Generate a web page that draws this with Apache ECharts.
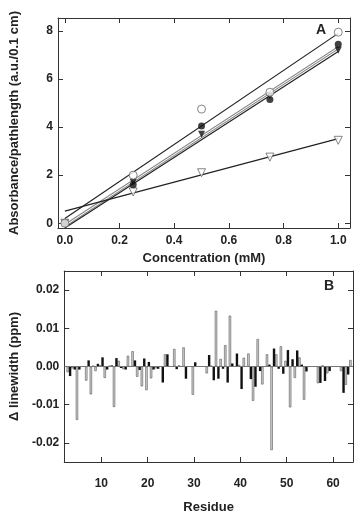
<!DOCTYPE html>
<html>
<head>
<meta charset="utf-8">
<script src="https://cdn.jsdelivr.net/npm/echarts@6/dist/echarts.min.js"></script>
<style>
  html, body { margin: 0; padding: 0; background: #fff; }
  #chart { width: 359px; height: 515px; }
</style>
</head>
<body>
<div id="chart"></div>
<script>
// panel A: concentration (mM) vs absorbance/pathlength
var conc = [0, 0.25, 0.5, 0.75, 1.0];
var openCircle = [0, 2.0, 4.75, 5.45, 7.95];
var filledCircle = [0, 1.6, 4.05, 5.15, 7.45];
var filledTri = [0, 1.7, 3.7, 5.3, 7.2];
var openTri = [0, 1.3, 2.1, 2.75, 3.45];
// fitted lines, read at x = 0 and x = 1
var fitX = [0, 1.0];
var fitOpenCircle = [0.2, 7.9];
var fitFilledCircle = [-0.1, 7.3];
var fitFilledTri = [-0.2, 7.15];
var fitOpenTri = [0.5, 3.52];

// panel B: linewidth change per residue
var residues = [3,4,5,6,7,8,9,10,11,12,13,14,15,16,17,18,19,20,21,22,23,24,25,26,27,28,29,30,
  31,32,33,34,35,36,37,38,39,40,41,42,43,44,45,46,47,48,49,50,51,52,53,54,55,56,57,58,59,60,61,62,63,64];
var grayVals = [-0.0015,-0.0005,-0.014,null,-0.0037,-0.0073,-0.0012,0.0003,-0.003,0.0002,-0.0106,0.0015,
  -0.0007,0.0028,0.004,-0.0027,-0.0052,-0.0062,-0.0031,-0.0005,null,0.0032,null,0.0046,0.0003,0.005,null,-0.0074,
  null,null,-0.0018,0.0002,0.0146,0.002,0.0056,0.0133,null,0.0004,0.0023,0.0034,-0.009,0.0072,-0.0047,0.0032,
  -0.0219,0.0032,0.0053,0.0015,-0.0107,-0.003,0.0024,-0.0087,null,null,-0.0044,0.0003,-0.0018,null,null,-0.0012,-0.0048,0.0017];
var blackVals = [-0.0025,-0.0008,-0.0008,null,0.0016,0.0002,0.0007,0.0024,-0.0008,0.0003,0.0022,-0.0004,
  -0.0008,null,0.0016,-0.0009,0.0021,0.0012,-0.0008,-0.0006,-0.0042,0.0032,null,-0.0007,null,-0.0032,null,0.0011,
  null,null,0.003,-0.0036,-0.0032,-0.0006,-0.0042,0.0008,0.0034,-0.0059,null,-0.0033,-0.0053,-0.0012,null,0.0005,
  0.0047,-0.0006,-0.0019,0.0043,0.0019,0.0042,0.0005,-0.0013,null,null,-0.0043,-0.0038,-0.0012,null,null,-0.0069,-0.0021,null];

function pairs(xs, ys) {
  return xs.map(function (x, i) { return [x, ys[i]]; });
}

var txt = '#222';
var fnt = 'Liberation Sans, Arial, sans-serif';
var lineCol = '#333';

function axisBase(extra) {
  var a = {
    type: 'value',
    axisLine: { show: true, onZero: false, lineStyle: { color: lineCol, width: 1 } },
    axisTick: { show: true, inside: true, length: 5, lineStyle: { color: lineCol } },
    splitLine: { show: false },
    axisLabel: { show: false }
  };
  for (var k in extra) a[k] = extra[k];
  return a;
}

var labelStyle = { color: txt, fontFamily: fnt, fontWeight: 'bold', fontSize: 12, showMinLabel: false, showMaxLabel: false };

function lbl(extra) {
  var o = {};
  for (var k in labelStyle) o[k] = labelStyle[k];
  for (var k2 in extra) o[k2] = extra[k2];
  return o;
}

var nameStyle = { color: txt, fontFamily: fnt, fontWeight: 'bold', fontSize: 13 };

var chart = echarts.init(document.getElementById('chart'));
chart.setOption({
  animation: false,
  backgroundColor: '#fff',
  grid: [
    { left: 54, top: 18, width: 296, height: 210 },
    { left: 63, top: 271, width: 290, height: 201 }
  ],
  xAxis: [
    axisBase({ gridIndex: 0, position: 'bottom', min: -0.025, max: 1.043,
      axisLabel: lbl({ show: true, margin: 7, formatter: function (v) { return v.toFixed(1); } }),
      name: 'Concentration (mM)', nameLocation: 'middle', nameGap: 24, nameTextStyle: nameStyle }),
    axisBase({ gridIndex: 0, position: 'top', min: -0.025, max: 1.043 }),
    axisBase({ gridIndex: 1, position: 'bottom', min: 2, max: 64.3,
      axisLabel: lbl({ show: true, margin: 16 }),
      name: 'Residue', nameLocation: 'middle', nameGap: 39, nameTextStyle: nameStyle }),
    axisBase({ gridIndex: 1, position: 'top', min: 2, max: 64.3 })
  ],
  yAxis: [
    axisBase({ gridIndex: 0, position: 'left', min: -0.2, max: 8.54,
      axisLabel: lbl({ show: true, margin: 5 }),
      name: 'Absorbance/pathlength (a.u./0.1 cm)', nameLocation: 'middle', nameGap: 37, nameTextStyle: nameStyle }),
    axisBase({ gridIndex: 0, position: 'right', min: -0.2, max: 8.54 }),
    axisBase({ gridIndex: 1, position: 'left', min: -0.025, max: 0.025,
      axisLabel: lbl({ show: true, margin: 5, formatter: function (v) { return v.toFixed(2); } }),
      name: '\u0394 linewidth (ppm)', nameLocation: 'middle', nameGap: 41, nameTextStyle: nameStyle }),
    axisBase({ gridIndex: 1, position: 'right', min: -0.025, max: 0.025 })
  ],
  graphic: [
    { type: 'text', left: 316, top: 23, style: { text: 'A', fill: txt, font: 'bold 14px ' + fnt } },
    { type: 'text', left: 324, top: 279, style: { text: 'B', fill: txt, font: 'bold 14px ' + fnt } }
  ],
  series: [
    { type: 'line', xAxisIndex: 0, yAxisIndex: 0, data: pairs(fitX, fitOpenCircle), symbol: 'none',
      lineStyle: { color: '#222', width: 1.2 }, z: 2 },
    { type: 'line', xAxisIndex: 0, yAxisIndex: 0, data: pairs(fitX, fitFilledCircle), symbol: 'none',
      lineStyle: { color: '#8a8a8a', width: 3 }, z: 2 },
    { type: 'line', xAxisIndex: 0, yAxisIndex: 0, data: pairs(fitX, fitFilledCircle), symbol: 'none',
      lineStyle: { color: '#fff', width: 1 }, z: 2 },
    { type: 'line', xAxisIndex: 0, yAxisIndex: 0, data: pairs(fitX, fitFilledTri), symbol: 'none',
      lineStyle: { color: '#222', width: 1.2 }, z: 2 },
    { type: 'line', xAxisIndex: 0, yAxisIndex: 0, data: pairs(fitX, fitOpenTri), symbol: 'none',
      lineStyle: { color: '#222', width: 1.2 }, z: 2 },
    { type: 'scatter', xAxisIndex: 0, yAxisIndex: 0, data: pairs(conc, openTri), symbol: 'triangle',
      symbolRotate: 180, symbolSize: 8, itemStyle: { color: '#fff', borderColor: '#666', borderWidth: 1 }, z: 3 },
    { type: 'scatter', xAxisIndex: 0, yAxisIndex: 0, data: pairs(conc, filledTri), symbol: 'triangle',
      symbolRotate: 180, symbolSize: 7, itemStyle: { color: '#111' }, z: 3 },
    { type: 'scatter', xAxisIndex: 0, yAxisIndex: 0, data: pairs(conc, filledCircle), symbol: 'circle',
      symbolSize: 7, itemStyle: { color: '#111' }, z: 4 },
    { type: 'scatter', xAxisIndex: 0, yAxisIndex: 0, data: pairs(conc, openCircle), symbol: 'circle',
      symbolSize: 8, itemStyle: { color: '#fff', borderColor: '#666', borderWidth: 1 }, z: 5 },

    { type: 'bar', xAxisIndex: 2, yAxisIndex: 2, data: pairs(residues, grayVals), barWidth: 2.4, barGap: '0%',
      itemStyle: { color: '#cdcdcd', borderColor: '#5a5a5a', borderWidth: 0.6 },
      markLine: { silent: true, symbol: 'none', label: { show: false },
        lineStyle: { color: '#777', width: 1, type: 'solid' }, data: [{ yAxis: 0 }] } },
    { type: 'bar', xAxisIndex: 2, yAxisIndex: 2, data: pairs(residues, blackVals), barWidth: 2.4, barGap: '0%',
      itemStyle: { color: '#111' } }
  ]
});
</script>
</body>
</html>
